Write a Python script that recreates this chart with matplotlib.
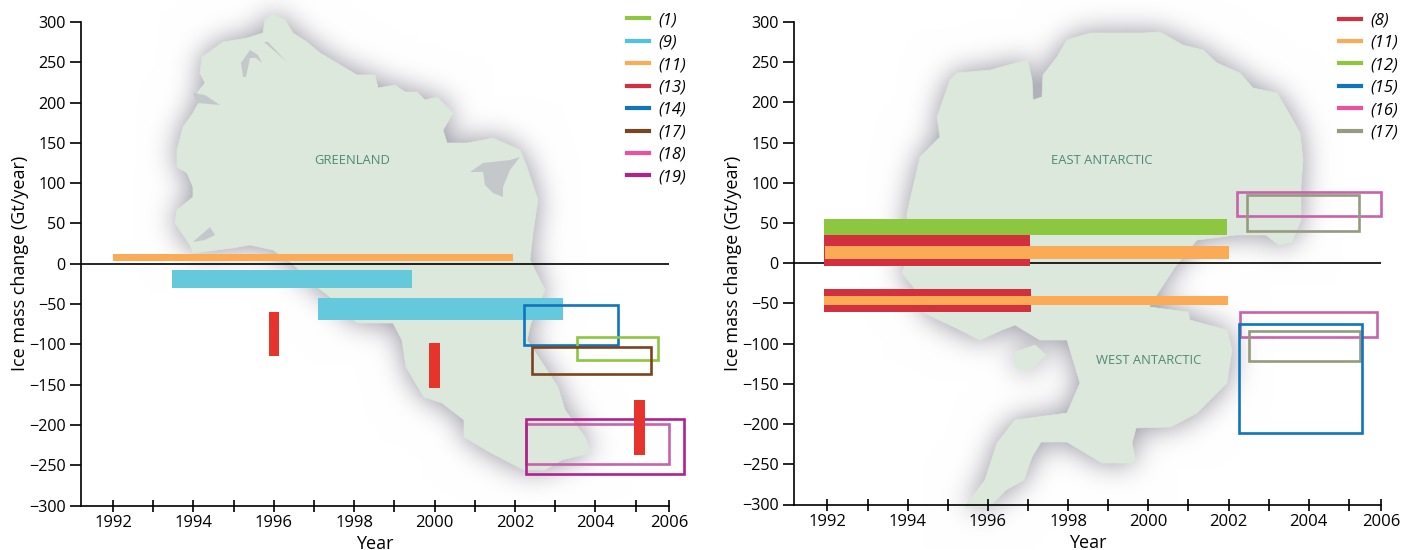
import matplotlib
matplotlib.use('Agg')
import matplotlib.pyplot as plt
from matplotlib.font_manager import FontProperties
from matplotlib.lines import Line2D
from matplotlib.patches import Polygon, Rectangle
from matplotlib.path import Path
import numpy as np

plt.rcParams['font.family'] = ['Open Sans', 'DejaVu Sans']

W, H = 1402, 550

# colours of the references
C_1 = '#8dc63f'
C_9 = '#65c9dd'
C_9L = '#4ec3e6'
C_11 = '#fbaa55'
C_13 = '#e6332c'
C_13L = '#d2303e'
C_14 = '#0f75bc'
C_17 = '#7b4420'
C_18 = '#c763aa'
C_18L = '#ee4f9f'
C_19 = '#b0228c'
C_GREY = '#959a80'

# each study: year start, year end, low, high (Gt/year)
green_11 = [(1992.0, 2001.95, 3, 12)]
green_9 = [(1993.46, 1999.43, -30, -8), (1997.09, 2003.19, -70, -43)]
green_13 = [(1995.89, 1996.14, -114, -60), (1999.87, 2000.13, -154, -98), (2004.97, 2005.24, -237, -169)]
green_14 = [(2002.22, 2004.57, -101, -51)]
green_1 = [(2003.53, 2005.56, -119, -91)]
green_17 = [(2002.41, 2005.37, -137, -103)]
green_18 = [(2002.27, 2005.82, -248, -199)]
green_19 = [(2002.27, 2006.2, -261, -193)]

ant_12 = [(1991.92, 2001.96, 35, 55)]
ant_8 = [(1991.92, 1997.05, -3, 35), (1991.92, 1997.07, -61, -32)]
ant_11 = [(1991.95, 2002.01, 5, 22), (1991.92, 2001.98, -52, -41)]
ant_16 = [(2002.2, 2005.8, 59, 88), (2002.28, 2005.7, -92, -60)]
ant_17 = [(2002.45, 2005.26, 40, 85), (2002.5, 2005.28, -122, -84)]
ant_15 = [(2002.26, 2005.32, -211, -76)]

y_ticks = np.arange(-300, 301, 50)
years = list(range(1992, 2006))
year_labels = [str(y) if y % 2 == 0 else '' for y in years] + ['2006']

# map outlines in picture pixels, only a backdrop
greenland = [(273, 14), (285, 20), (293, 33), (307, 42), (320, 53), (337, 63), (357, 75), (375, 75), (378, 88),
             (395, 85), (405, 92), (417, 92), (425, 100), (437, 97), (453, 113), (443, 130), (447, 143), (467, 143),
             (493, 138), (520, 150), (527, 167), (538, 200), (533, 233), (530, 260), (545, 290), (531, 323), (527, 340),
             (545, 367), (558, 387), (565, 410), (585, 437), (591, 453), (562, 460), (545, 470), (524, 470), (491, 453),
             (464, 437), (464, 420), (442, 403), (424, 397), (406, 367), (402, 340), (393, 323), (357, 323), (330, 297),
             (308, 280), (292, 263), (273, 250), (250, 245), (233, 248), (193, 253), (190, 245), (175, 223), (177, 210),
             (193, 197), (193, 187), (187, 173), (177, 167), (177, 150), (183, 127), (193, 113), (200, 100), (197, 93),
             (205, 83), (200, 73), (202, 57), (223, 42), (247, 38), (263, 33), (265, 20)]
antarctic = [(1028, 62), (1032, 80), (1033, 100), (1042, 97), (1043, 75), (1057, 57), (1067, 40), (1090, 33), (1143, 33),
             (1160, 32), (1183, 45), (1203, 50), (1217, 63), (1240, 73), (1253, 88), (1277, 93), (1287, 110), (1300, 133),
             (1303, 160), (1301, 187), (1301, 220), (1292, 242), (1279, 245), (1266, 235), (1236, 235), (1214, 238),
             (1197, 240), (1175, 267), (1158, 293), (1149, 307), (1188, 312), (1190, 320), (1227, 330), (1232, 350),
             (1227, 383), (1197, 413), (1171, 427), (1136, 428), (1132, 443), (1136, 463), (1102, 463), (1067, 442),
             (1041, 442), (1032, 457), (1024, 480), (1006, 490), (989, 507), (965, 507), (985, 480), (997, 443),
             (1015, 420), (1067, 413), (1080, 383), (1067, 340), (1040, 340), (1015, 325), (1002, 330), (980, 340),
             (954, 327), (924, 313), (924, 300), (902, 273), (907, 260), (907, 213), (920, 157), (940, 137), (937, 117),
             (950, 80), (957, 73), (990, 70), (1027, 60)]
antarctic_isle = [(1015, 352), (1035, 345), (1046, 355), (1030, 370), (1016, 368)]
water = [[(470, 172), (483, 163), (510, 160), (520, 157), (510, 170), (503, 187), (503, 197), (493, 193), (485, 185), (483, 172)],
         [(243, 77), (241, 63), (250, 50), (258, 55), (262, 63), (256, 58), (250, 58), (246, 77)],
         [(193, 242), (210, 227), (215, 235), (205, 240)],
         [(264, 42), (268, 42), (287, 62)],
         [(193, 93), (205, 95), (220, 105), (197, 103)]]


def blur(a, sigma):
    r = int(3 * sigma)
    x = np.arange(-r, r + 1)
    k = np.exp(-x ** 2 / (2.0 * sigma ** 2))
    k = k / k.sum()
    a = np.apply_along_axis(lambda v: np.convolve(v, k, mode='same'), 0, a)
    a = np.apply_along_axis(lambda v: np.convolve(v, k, mode='same'), 1, a)
    return a


def draw_backdrop(fig):
    bg = fig.add_axes([0, 0, 1, 1], zorder=0)
    bg.set_xlim(0, W)
    bg.set_ylim(H, 0)
    bg.axis('off')

    gx, gy = np.meshgrid(np.arange(W) + 0.5, np.arange(H) + 0.5)
    pts = np.column_stack([gx.ravel(), gy.ravel()])
    mask = np.zeros(W * H)
    for outline in [greenland, antarctic, antarctic_isle]:
        mask += Path(outline).contains_points(pts)
    mask = mask.reshape(H, W)
    alpha = np.clip(1.15 * blur(np.clip(mask, 0, 1), 14), 0, 0.8)
    img = np.ones((H, W, 3))
    for i, c in enumerate((0.62, 0.62, 0.66)):
        img[:, :, i] = 1 - alpha * (1 - c)
    bg.imshow(img, extent=(0, W, H, 0), aspect='auto', zorder=1, interpolation='bilinear')

    for outline in [greenland, antarctic, antarctic_isle]:
        bg.add_patch(Polygon(outline, fc='#dde8dc', ec='#dde8dc', lw=0.5, zorder=2))
    for outline in water:
        bg.add_patch(Polygon(outline, fc='#c4c8cb', ec='none', zorder=3))

    label = dict(color='#4d8b74', fontsize=9.4, ha='center', va='center', zorder=4)
    bg.text(352, 160, 'GREENLAND', **label)
    bg.text(1102, 160, 'EAST ANTARCTIC', **label)
    bg.text(1149, 360, 'WEST ANTARCTIC', **label)


def draw_box(ax, rows, color, filled, z, lw=1.9):
    for x0, x1, y0, y1 in rows:
        if filled:
            ax.add_patch(Rectangle((x0, y0), x1 - x0, y1 - y0, fc=color, ec='none', zorder=z, clip_on=False))
        else:
            ax.add_patch(Rectangle((x0, y0), x1 - x0, y1 - y0, fc='none', ec=color, lw=lw, zorder=z, clip_on=False))


def setup_axes(fig, left, right, top, bottom, x_left, x_right, last_tick):
    ax = fig.add_axes([left / W, 1 - bottom / H, (right - left) / W, (bottom - top) / H], zorder=2)
    ax.patch.set_alpha(0)
    ax.set_xlim(x_left, x_right)
    ax.set_ylim(-300, 300)
    ax.spines['top'].set_visible(False)
    ax.spines['right'].set_visible(False)
    ax.spines['left'].set_linewidth(1.2)
    ax.spines['bottom'].set_linewidth(1.2)
    ax.set_xticks(years + [last_tick])
    ax.set_xticklabels(year_labels, fontsize=12)
    ax.set_yticks(y_ticks)
    ax.set_yticklabels([str(v).replace('-', '\u2212') for v in y_ticks], fontsize=11.6)
    ax.tick_params(axis='x', direction='inout', length=8, width=1.2, pad=3)
    ax.tick_params(axis='y', direction='out', length=8, width=1.2, pad=3)
    ax.axhline(0, color='black', lw=1.2, zorder=1)
    ax.set_xlabel('Year', fontsize=13, labelpad=2.5)
    ax.set_ylabel('Ice mass change (Gt/year)', fontsize=13)
    # ylabel placed by hand, its right edge just clears the tick labels
    ax.yaxis.set_label_coords(-52.0 / (right - left), 0.5)
    return ax


def add_key(ax, keys, x, y):
    handles = [Line2D([], [], color=c, lw=3) for c, n in keys]
    labels = ['(%d)' % n for c, n in keys]
    ax.legend(handles, labels, loc='upper left', bbox_to_anchor=(x, y), frameon=False,
              prop=FontProperties(family='Open Sans', style='italic', size=12),
              handlelength=1.3, handletextpad=0.55, labelspacing=0.385, borderpad=0, borderaxespad=0)


fig = plt.figure(figsize=(W / 100, H / 100), dpi=100)
draw_backdrop(fig)

ax1 = setup_axes(fig, 81, 669, 22, 505.5, 1991.204, 2005.83, 2005.83)
draw_box(ax1, green_11, C_11, True, 3)
draw_box(ax1, green_9, C_9, True, 3)
draw_box(ax1, green_14, C_14, False, 4)
draw_box(ax1, green_1, C_1, False, 4)
draw_box(ax1, green_17, C_17, False, 4)
draw_box(ax1, green_18, C_18, False, 4)
draw_box(ax1, green_19, C_19, False, 4)
draw_box(ax1, green_13, C_13, True, 5)
add_key(ax1, [(C_1, 1), (C_9L, 9), (C_11, 11), (C_13L, 13), (C_14, 14), (C_17, 17), (C_18L, 18), (C_19, 19)], 0.929, 1.02)

ax2 = setup_axes(fig, 794, 1381, 22, 504.5, 1991.165, 2005.8, 2005.8)
draw_box(ax2, ant_12, C_1, True, 3)
draw_box(ax2, ant_8, '#d2303e', True, 3)
draw_box(ax2, ant_11, C_11, True, 4)
draw_box(ax2, ant_16, C_18, False, 5)
draw_box(ax2, ant_17, C_GREY, False, 5)
draw_box(ax2, ant_15, C_14, False, 6)
add_key(ax2, [('#d2303e', 8), (C_11, 11), (C_1, 12), (C_14, 15), (C_18L, 16), (C_GREY, 17)], 0.929, 1.02)

fig.savefig('out.png', dpi=100)
